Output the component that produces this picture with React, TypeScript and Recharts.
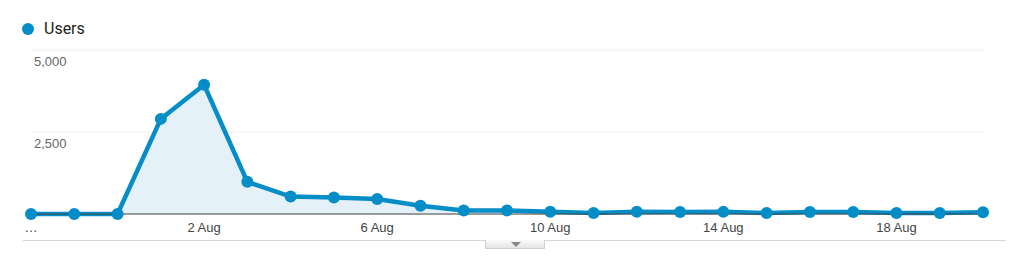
import React from 'react';
import { AreaChart, Area, XAxis, YAxis, CartesianGrid } from 'recharts';

// Daily users, 29 Jul – 20 Aug
const dates = [
  '29 Jul', '30 Jul', '31 Jul', '1 Aug', '2 Aug', '3 Aug', '4 Aug', '5 Aug',
  '6 Aug', '7 Aug', '8 Aug', '9 Aug', '10 Aug', '11 Aug', '12 Aug', '13 Aug',
  '14 Aug', '15 Aug', '16 Aug', '17 Aug', '18 Aug', '19 Aug', '20 Aug',
];
const users = [
  0, 0, 0, 2900, 3940, 980, 530, 505, 455, 250, 110, 110,
  70, 30, 70, 60, 65, 30, 60, 60, 30, 30, 50,
];
const yTicks = [0, 2500, 5000];

const data = dates.map((d, i) => ({ date: d, users: users[i] }));

const BLUE = '#058dc7';
const AXIS_FONT = '"Liberation Sans", Arial, sans-serif';

const renderYTick = (props: any) => {
  const { y, payload } = props;
  if (payload.value === 0) return <g />;
  return (
    <text x={26} y={y + 16} fill="#666" fontSize={13} fontFamily={AXIS_FONT} textAnchor="start">
      {Number(payload.value).toLocaleString('en-US')}
    </text>
  );
};

const App: React.FC = () => {
  return (
    <div style={{ position: 'relative', width: 1008, height: 244 }}>
      <div
        style={{
          position: 'absolute', left: 14, top: 11, display: 'flex', alignItems: 'center',
          fontFamily: 'Roboto, sans-serif', fontSize: 16, color: '#222',
        }}
      >
        <span style={{ width: 12, height: 12, borderRadius: '50%', background: BLUE, display: 'inline-block', marginRight: 10 }} />
        Users
      </div>
      <AreaChart width={1008} height={244} data={data} margin={{ top: 42, right: 33, bottom: 8, left: 22 }}>
        <CartesianGrid vertical={false} stroke="#ececec" />
        <XAxis
          dataKey="date"
          interval={3}
          axisLine={{ stroke: '#444' }}
          tickLine={false}
          tickMargin={3}
          height={30}
          tick={{ fill: '#444', fontSize: 13, fontFamily: AXIS_FONT }}
          tickFormatter={(v: string, i: number) => (i === 0 ? '…' : v)}
        />
        <YAxis
          width={1}
          domain={[0, 5000]}
          ticks={yTicks}
          axisLine={false}
          tickLine={false}
          tick={renderYTick}
        />
        <Area
          type="linear"
          dataKey="users"
          stroke={BLUE}
          strokeWidth={4.5}
          fill="#e4f1f8"
          fillOpacity={1}
          dot={{ r: 6, fill: BLUE, stroke: 'none' }}
          activeDot={false}
          isAnimationActive={false}
        />
      </AreaChart>
      <div style={{ position: 'absolute', left: 15, top: 232, width: 983, height: 1, background: '#d6d6d6' }} />
      <div
        style={{
          position: 'absolute', left: 477, top: 232, width: 60, height: 9,
          background: 'linear-gradient(#fafafa, #e6e6e6)', border: '1px solid #d0d0d0', borderTop: 'none',
          boxSizing: 'border-box',
        }}
      >
        <div style={{ position: 'absolute', left: 25, top: 2, width: 0, height: 0, borderLeft: '5px solid transparent', borderRight: '5px solid transparent', borderTop: '5px solid #888' }} />
      </div>
    </div>
  );
};

export default App;
